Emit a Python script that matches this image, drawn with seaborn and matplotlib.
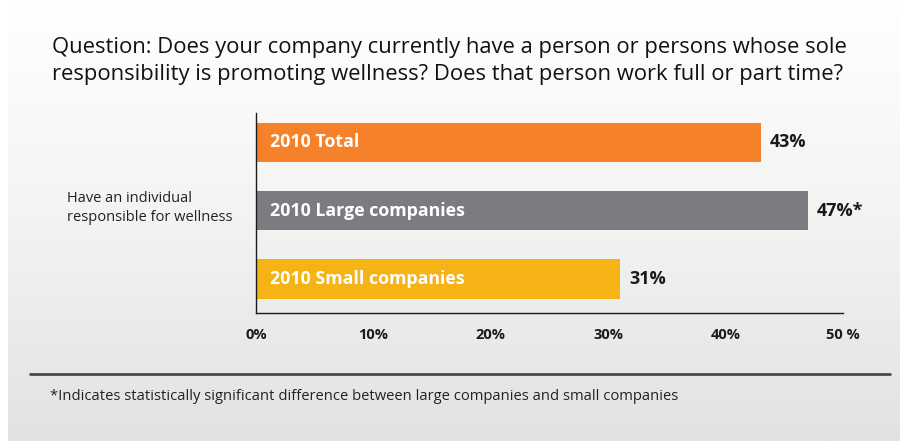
import numpy as np
import pandas as pd
import matplotlib
matplotlib.use("Agg")
import matplotlib.pyplot as plt
import seaborn as sns

# Survey results
groups = ["2010 Total", "2010 Large companies", "2010 Small companies"]
shares = [43, 47, 31]
value_labels = ["43%", "47%*", "31%"]
bar_colors = ["#f5822a", "#7a7c80", "#f5b316"]
tick_values = [0, 10, 20, 30, 40, 50]
tick_labels = ["0%", "10%", "20%", "30%", "40%", "50 %"]
row_label = "Have an individual\nresponsible for wellness"
title = ("Question: Does your company currently have a person or persons whose sole\n"
         "responsibility is promoting wellness? Does that person work full or part time?")
footnote = "*Indicates statistically significant difference between large companies and small companies"

sns.set_theme(style="white")
plt.rcParams["font.family"] = ["Open Sans", "DejaVu Sans"]

W, H = 900, 441
fig = plt.figure(figsize=(W / 100, H / 100), dpi=100)
fig.patch.set_facecolor("white")

# soft vertical gradient panel behind everything
bg = fig.add_axes([8 / W, 0, 1 - 8 / W, 1], zorder=-10)
grad = np.linspace(0, 1, 256).reshape(-1, 1)
cmap = matplotlib.colors.LinearSegmentedColormap.from_list(
    "panel", ["#ffffff", "#f3f3f2", "#e2e2e0"])
bg.imshow(grad, aspect="auto", cmap=cmap, extent=[0, 1, 0, 1], origin="upper")
bg.set_axis_off()

# bar chart axes: x from 256px to 843px, y from 113px to 313px
left, right, top, bottom = 256, 843, 113, 313
ax = fig.add_axes([left / W, 1 - bottom / H, (right - left) / W, (bottom - top) / H])
ax.patch.set_alpha(0)

df = pd.DataFrame({"group": groups, "share": shares})
sns.barplot(data=df, x="share", y="group", hue="group", palette=bar_colors,
            orient="h", width=0.58, legend=False, ax=ax, saturation=1,
            linewidth=0, edgecolor="none")

ax.set_xlim(0, 50)
ax.set_ylim(2.5, -0.43)
ax.set_xticks(tick_values)
ax.set_xticklabels(tick_labels, fontsize=10.5, fontweight="bold", color="#1a1a1a")
ax.set_yticks([])
ax.set_xlabel("")
ax.set_ylabel("")
for s in ["top", "right"]:
    ax.spines[s].set_visible(False)
for s in ["left", "bottom"]:
    ax.spines[s].set_visible(True)
    ax.spines[s].set_color("#1a1a1a")
    ax.spines[s].set_linewidth(1.0)
ax.tick_params(axis="x", direction="out", length=7, width=1.0, color="#1a1a1a", pad=4)

for i, (g, v, lab) in enumerate(zip(groups, shares, value_labels)):
    ax.text(1.2, i, g, va="center", ha="left", color="white",
            fontsize=12.8, fontweight="bold")
    ax.text(v + 0.8, i, lab, va="center", ha="left", color="#1a1a1a",
            fontsize=13, fontweight="bold")

fig.text(67 / W, 1 - 208 / H, row_label, ha="left", va="center",
         fontsize=10.5, color="#222222", linespacing=1.35)

fig.text(52 / W, 1 - 61 / H, title, ha="left", va="center",
         fontsize=15.8, color="#111111", linespacing=1.32)

line = matplotlib.lines.Line2D([30 / W, 890 / W], [1 - 374 / H, 1 - 374 / H],
                               transform=fig.transFigure, color="#4a4a4a", linewidth=2)
fig.add_artist(line)
fig.text(50 / W, 1 - 396 / H, footnote, ha="left", va="center",
         fontsize=10.6, color="#222222")

fig.savefig("out.png", dpi=100)
